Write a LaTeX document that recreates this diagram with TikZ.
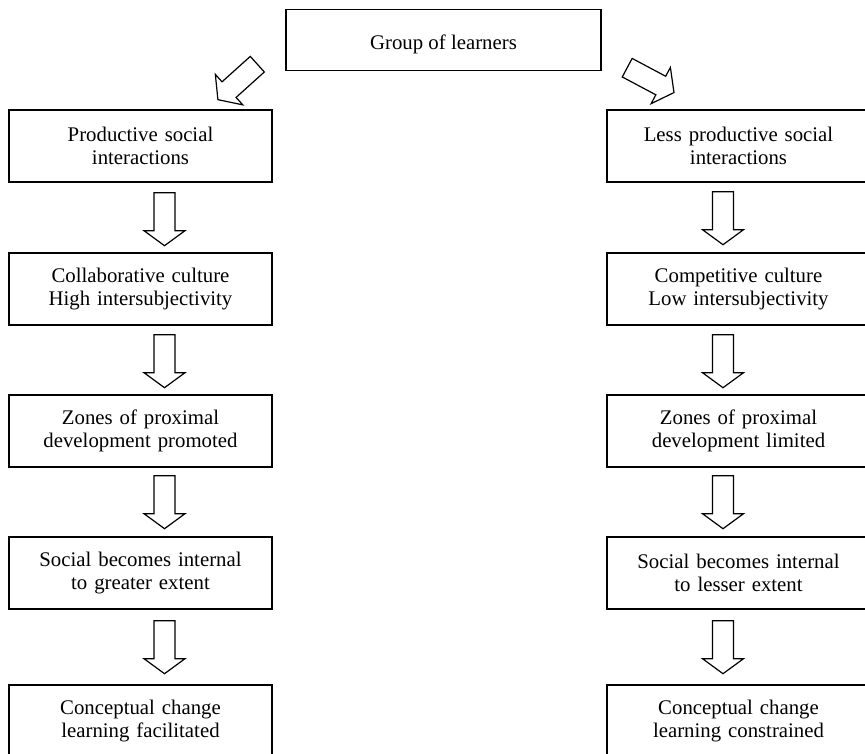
\documentclass[tikz,border=0pt]{standalone}
\usepackage{fontspec}
\setmainfont{Liberation Serif}
\usetikzlibrary{calc}
\begin{document}
\begin{tikzpicture}[x=1pt,y=-1pt,
  txt/.style={font=\fontsize{20.8}{23}\selectfont},
  stagebox/.style={draw, line width=1.4pt, minimum width=263pt, minimum height=72pt,
    text width=255pt, align=center, inner sep=0pt, txt},
  topbox/.style={draw, line width=1.4pt, minimum width=315pt, minimum height=61pt,
    inner sep=0pt, text height=25pt, text depth=5pt, txt},
  blockarrow/.pic={
    \draw[line width=1.2pt, line join=miter]
      (0,-10.5) -- (38,-10.5) -- (38,-20.5) -- (53,0) -- (38,20.5) -- (38,10.5) -- (0,10.5) -- cycle;}
]
\useasboundingbox (0,0) rectangle (865,754);
\clip (0,0) rectangle (865,754);

% root
\node[topbox] (G) at (443.5,40) {Group of learners};

% left column: productive path
\node[stagebox] (L1) at (140.5,146) {Productive social\\interactions};
\node[stagebox] (L2) at (140.5,289) {Collaborative culture\\High intersubjectivity};
\node[stagebox] (L3) at (140.5,431) {Zones of proximal\\development promoted};
\node[stagebox] (L4) at (140.5,573) {Social becomes internal\\to greater extent};
\node[stagebox] (L5) at (140.5,721) {Conceptual change\\learning facilitated};

% right column: less productive path
\node[stagebox] (R1) at (738.5,146) {Less productive social\\interactions};
\node[stagebox] (R2) at (738.5,289) {Competitive culture\\Low intersubjectivity};
\node[stagebox] (R3) at (738.5,431) {Zones of proximal\\development limited};
\node[stagebox] (R4) at (738.5,573) {Social becomes internal\\to lesser extent};
\node[stagebox] (R5) at (738.5,721) {Conceptual change\\learning constrained};

% branching arrows from the root
\pic[rotate=-138] (GL) at ($(G.south west)+(-28,-7)$) {blockarrow};
\pic[rotate=-28]  (GR) at ($(G.south east)+(25.5,-3.5)$) {blockarrow};

% stage-to-stage arrows
\pic[rotate=-90] (LA1) at ($(L1.south)+(24,10)$) {blockarrow};
\pic[rotate=-90] (LA2) at ($(L2.south)+(24,9)$)  {blockarrow};
\pic[rotate=-90] (LA3) at ($(L3.south)+(24,8)$)  {blockarrow};
\pic[rotate=-90] (LA4) at ($(L4.south)+(24,11)$) {blockarrow};

\pic[rotate=-90] (RA1) at ($(R1.south)+(-15.5,9)$)  {blockarrow};
\pic[rotate=-90] (RA2) at ($(R2.south)+(-15.5,9)$)  {blockarrow};
\pic[rotate=-90] (RA3) at ($(R3.south)+(-15.5,8)$)  {blockarrow};
\pic[rotate=-90] (RA4) at ($(R4.south)+(-15.5,11)$) {blockarrow};
\end{tikzpicture}
\end{document}
